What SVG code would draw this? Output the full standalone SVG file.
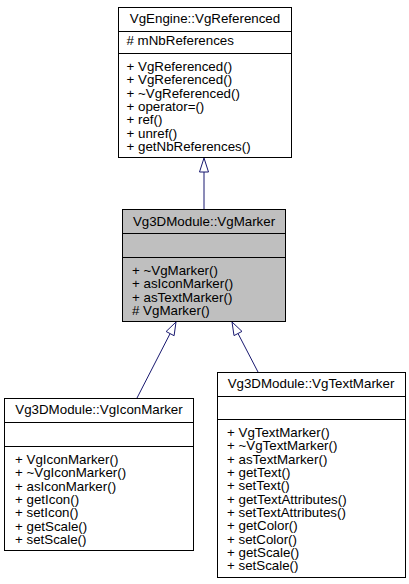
<svg xmlns="http://www.w3.org/2000/svg" width="409" height="584" viewBox="0 0 409 584">
<style>
text { font-family: "Liberation Sans", Arial, sans-serif; font-size: 13.33px; fill: #000; }
.t { text-anchor: middle; }
.box { fill: #fff; stroke: #000; stroke-width: 1; }
.gray { fill: #bfbfbf; }
.sep { stroke: #000; stroke-width: 1; }
.edge { stroke: #191970; stroke-width: 1; fill: none; }
.head { fill: #fff; stroke: #191970; stroke-width: 1; }
</style>
<rect width="409" height="584" fill="#fff"/>
<g id="connectors">
  <line class="edge" x1="204" y1="209" x2="204" y2="172"/>
  <polygon class="head" points="204,158 199.5,172 208.5,172"/>
  <line class="edge" x1="137" y1="398" x2="170.1" y2="333.6"/>
  <polygon class="head" points="176,322 174.1,335.7 166.1,331.5"/>
  <line class="edge" x1="258" y1="372" x2="238" y2="333.5"/>
  <polygon class="head" points="232,322 242,331.4 234,335.6"/>
</g>
<g id="VgReferenced">
  <rect class="box" x="118.5" y="7.5" width="173" height="150"/>
  <line class="sep" x1="118.5" y1="31.5" x2="291.5" y2="31.5"/>
  <line class="sep" x1="118.5" y1="53.5" x2="291.5" y2="53.5"/>
  <text class="t" x="205" y="23">VgEngine::VgReferenced</text>
  <text x="126.5" y="45"># mNbReferences</text>
  <text x="126.5" y="71">+ VgReferenced()</text>
  <text x="126.5" y="84.3">+ VgReferenced()</text>
  <text x="126.5" y="97.7">+ ~VgReferenced()</text>
  <text x="126.5" y="111">+ operator=()</text>
  <text x="126.5" y="124.3">+ ref()</text>
  <text x="126.5" y="137.7">+ unref()</text>
  <text x="126.5" y="151">+ getNbReferences()</text>
</g>
<g id="VgMarker">
  <rect class="box gray" x="122.5" y="209.5" width="163" height="112"/>
  <line class="sep" x1="122.5" y1="233.5" x2="285.5" y2="233.5"/>
  <line class="sep" x1="122.5" y1="257.5" x2="285.5" y2="257.5"/>
  <text class="t" x="204" y="226">Vg3DModule::VgMarker</text>
  <text x="132" y="275">+ ~VgMarker()</text>
  <text x="132" y="288.3">+ asIconMarker()</text>
  <text x="132" y="301.7">+ asTextMarker()</text>
  <text x="132" y="315"># VgMarker()</text>
</g>
<g id="VgIconMarker">
  <rect class="box" x="4.5" y="398.5" width="189" height="152"/>
  <line class="sep" x1="4.5" y1="422.5" x2="193.5" y2="422.5"/>
  <line class="sep" x1="4.5" y1="446.5" x2="193.5" y2="446.5"/>
  <text class="t" x="99" y="414">Vg3DModule::VgIconMarker</text>
  <text x="15" y="464">+ VgIconMarker()</text>
  <text x="15" y="477.3">+ ~VgIconMarker()</text>
  <text x="15" y="490.7">+ asIconMarker()</text>
  <text x="15" y="504">+ getIcon()</text>
  <text x="15" y="517.3">+ setIcon()</text>
  <text x="15" y="530.7">+ getScale()</text>
  <text x="15" y="544">+ setScale()</text>
</g>
<g id="VgTextMarker">
  <rect class="box" x="217.5" y="372.5" width="188" height="205"/>
  <line class="sep" x1="217.5" y1="396.5" x2="405.5" y2="396.5"/>
  <line class="sep" x1="217.5" y1="419.5" x2="405.5" y2="419.5"/>
  <text class="t" x="311" y="388">Vg3DModule::VgTextMarker</text>
  <text x="227" y="437">+ VgTextMarker()</text>
  <text x="227" y="450.3">+ ~VgTextMarker()</text>
  <text x="227" y="463.7">+ asTextMarker()</text>
  <text x="227" y="477">+ getText()</text>
  <text x="227" y="490.3">+ setText()</text>
  <text x="227" y="503.7">+ getTextAttributes()</text>
  <text x="227" y="517">+ setTextAttributes()</text>
  <text x="227" y="530.3">+ getColor()</text>
  <text x="227" y="543.7">+ setColor()</text>
  <text x="227" y="557">+ getScale()</text>
  <text x="227" y="570.3">+ setScale()</text>
</g>
</svg>
